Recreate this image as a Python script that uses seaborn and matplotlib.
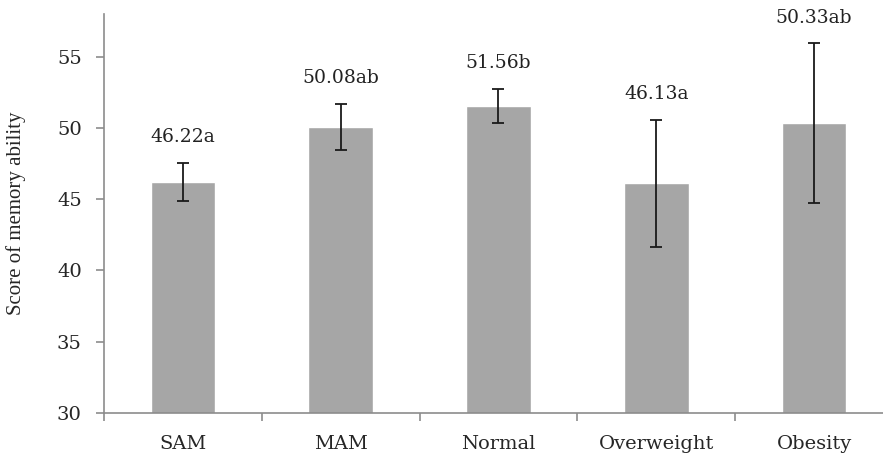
import numpy as np
import pandas as pd
import seaborn as sns
from matplotlib import pyplot as plt

# Values
groups = ['SAM', 'MAM', 'Normal', 'Overweight', 'Obesity']
means = [46.22, 50.08, 51.56, 46.13, 50.33]
errors = [1.35, 1.6, 1.2, 4.45, 5.6]
letters = ['a', 'ab', 'b', 'a', 'ab']

df = pd.DataFrame({'Group': groups, 'Score': means})

sns.set_style('white')
plt.rcParams['font.family'] = ['DejaVu Serif']

fig = plt.figure(figsize=(8.83, 4.63), dpi=100)
ax = fig.add_axes([0.1178, 0.108, 0.8935, 0.862])

sns.barplot(data=df, x='Group', y='Score', color='#a6a6a6', saturation=1,
            width=0.41, ax=ax)
ax.errorbar(np.arange(len(groups)), means, yerr=errors, fmt='none',
            ecolor='#1a1a1a', elinewidth=1.3, capsize=4, capthick=1.3)

# value + significance letters above the error bars
for i, (m, e, l) in enumerate(zip(means, errors, letters)):
    ax.annotate(f'{m:.2f}{l}', (i, m + e), xytext=(0, 18.5), textcoords='offset points',
                ha='center', va='center', fontsize=13.5, color='#222222')

ax.set_ylim(30, 58)
ax.set_xlim(-0.5, 4.5)
ax.set_yticks([30, 35, 40, 45, 50, 55])
ax.set_xlabel('')
ax.set_ylabel('Score of memory ability', fontsize=15, family='Liberation Serif', labelpad=22)

for s in ['top', 'right']:
    ax.spines[s].set_visible(False)
for s in ['left', 'bottom']:
    ax.spines[s].set_color('#8c8c8c')
    ax.spines[s].set_linewidth(1.2)

ax.set_xticks(np.arange(len(groups) + 1) - 0.5, minor=True)
ax.tick_params(axis='x', which='major', bottom=False, length=0, pad=16, labelsize=14)
ax.tick_params(axis='x', which='minor', bottom=True, direction='out', length=6,
               color='#8c8c8c', width=1.2)
ax.tick_params(axis='y', left=True, direction='out', length=6, color='#8c8c8c',
               width=1.2, labelsize=14, pad=10)

plt.savefig('out.png', dpi=100)
